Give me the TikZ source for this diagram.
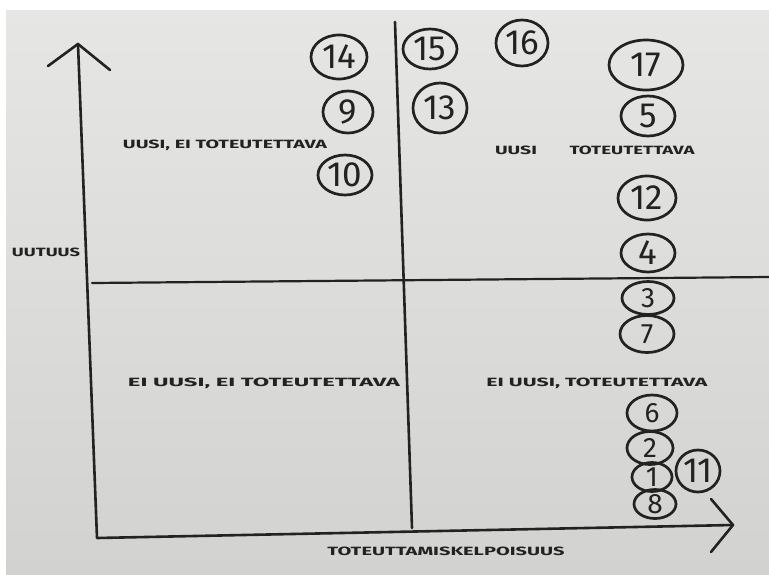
\documentclass[tikz,border=0pt]{standalone}
\usepackage{fontspec}
\setmainfont{Fira Sans}
\usetikzlibrary{shapes.geometric}
\definecolor{ink}{HTML}{222222}
\definecolor{paperA}{HTML}{E6E6E4}
\definecolor{paperB}{HTML}{D2D2D1}
\newcommand{\fitlabel}[2]{\resizebox{#1}{8.5pt}{#2}}
\tikzset{
  pen/.style={draw=ink, line width=2.6pt, line cap=round, line join=round},
  num/.style={ellipse, draw=ink, line width=2.7pt, inner sep=0pt, text=ink,
              font=\fontsize{35}{35}\selectfont},
  smallnum/.style={num, font=\fontsize{28}{28}\selectfont},
  lbl/.style={inner sep=0pt, text=ink, font=\bfseries}
}
\begin{document}
\begin{tikzpicture}[x=1pt,y=-1pt]
\useasboundingbox (0,0) rectangle (769,574);
\fill[white] (0,0) rectangle (769,574);
\shade[top color=paperA, bottom color=paperB] (6,10) rectangle (769,574);

% axes
\coordinate (ytop) at (78,44);
\coordinate (origin) at (97,538);
\coordinate (xend) at (733,525);
\coordinate (yl) at (48,66);
\coordinate (yr) at (110,70);
\coordinate (xu) at (711,499);
\coordinate (xd) at (711,552);
\coordinate (hl) at (92,283);
\coordinate (hr) at (769,277);
\coordinate (vt) at (395,22);
\coordinate (vb) at (412,528);

\draw[pen] (ytop) -- (origin) -- (xend);
\draw[pen] (yl) -- (ytop) -- (yr);
\draw[pen] (xu) -- (xend) -- (xd);
\draw[pen, line width=2.2pt] (hl) -- (hr);
\draw[pen] (vt) -- (vb);

% numbered circles
\node[num, minimum width=56pt, minimum height=44pt] (n14) at (339,57) {14};
\node[num, minimum width=50pt, minimum height=42pt] (n9) at (348,112) {9};
\node[num, minimum width=54pt, minimum height=40pt] (n10) at (345,175) {10};
\node[num, minimum width=54pt, minimum height=40pt] (n15) at (430,49) {15};
\node[num, minimum width=54pt, minimum height=50pt] (n13) at (440,108) {13};
\node[num, minimum width=52pt, minimum height=46pt] (n16) at (522,43) {16};
\node[num, minimum width=74pt, minimum height=50pt] (n17) at (646,65) {17};
\node[num, minimum width=54pt, minimum height=40pt] (n5) at (648,116) {5};
\node[num, minimum width=58pt, minimum height=44pt] (n12) at (647,198) {12};
\node[num, minimum width=54pt, minimum height=38pt] (n4) at (648,253) {4};
\node[smallnum, minimum width=52pt, minimum height=33pt] (n3) at (648,298) {3};
\node[smallnum, minimum width=54pt, minimum height=37pt] (n7) at (647,334) {7};
\node[smallnum, minimum width=50pt, minimum height=36pt] (n6) at (652,413) {6};
\node[smallnum, minimum width=46pt, minimum height=33pt] (n2) at (650,448) {2};
\node[smallnum, minimum width=40pt, minimum height=29pt] (n1) at (652,477) {1};
\node[smallnum, minimum width=42pt, minimum height=29pt] (n8) at (655,504) {8};
\node[num, minimum width=44pt, minimum height=42pt] (n11) at (698,471) {11};

% labels
\node[lbl] (q1) at (225,145) {\fitlabel{204pt}{UUSI, EI TOTEUTETTAVA}};
\node[lbl] (ylab) at (46,252) {\fitlabel{68pt}{UUTUUS}};
\node[lbl] (q2a) at (516,150) {\fitlabel{42pt}{UUSI}};
\node[lbl] (q2b) at (632,150) {\fitlabel{125pt}{TOTEUTETTAVA}};
\node[lbl] (q3) at (264,383) {\fitlabel{272pt}{EI UUSI, EI TOTEUTETTAVA}};
\node[lbl] (q4) at (597,383) {\fitlabel{221pt}{EI UUSI, TOTEUTETTAVA}};
\node[lbl] (xlab) at (446,551) {\fitlabel{237pt}{TOTEUTTAMISKELPOISUUS}};
\end{tikzpicture}
\end{document}
